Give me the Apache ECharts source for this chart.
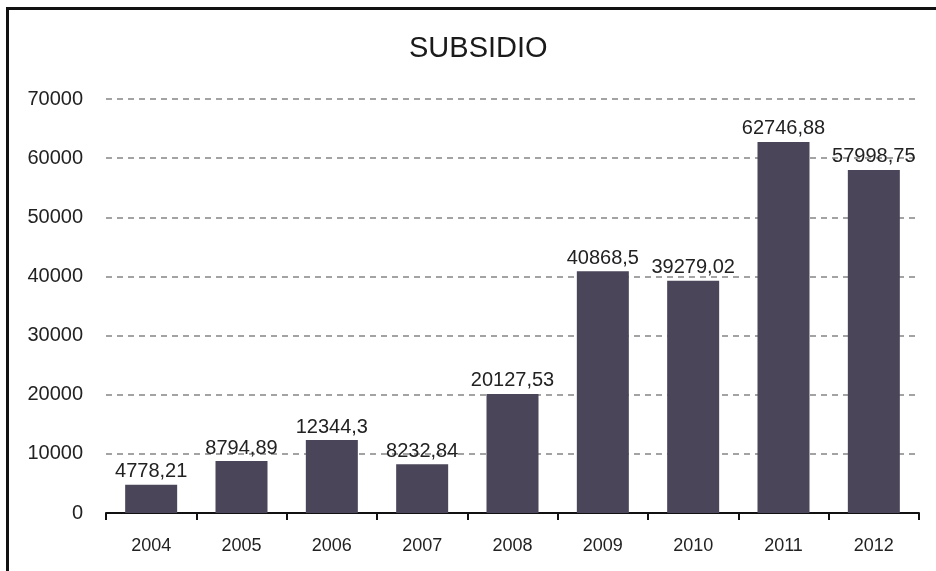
<!DOCTYPE html>
<html>
<head>
<meta charset="utf-8">
<script src="https://cdn.jsdelivr.net/npm/echarts@6/dist/echarts.min.js"></script>
<style>
  html, body { margin: 0; padding: 0; background: #fff; }
  #frame { position: absolute; left: 6px; top: 7px; right: 0; bottom: 0;
           border-top: 3px solid #111; border-left: 3px solid #111; }
  #myChart { position: absolute; left: 0; top: 0; width: 936px; height: 571px; }
</style>
</head>
<body>
<div id="frame"></div>
<div id="myChart"></div>
<script>
// datos
var years = ['2004', '2005', '2006', '2007', '2008', '2009', '2010', '2011', '2012'];
var subsidio = [4778.21, 8794.89, 12344.3, 8232.84, 20127.53, 40868.5, 39279.02, 62746.88, 57998.75];
var yTicks = [0, 10000, 20000, 30000, 40000, 50000, 60000, 70000];

var myChart = echarts.init(document.getElementById('myChart'));

myChart.setOption({
  animation: false,
  textStyle: { fontFamily: 'Liberation Sans, Arial, sans-serif' },
  title: {
    text: 'SUBSIDIO',
    left: 404,
    top: 29,
    textStyle: { fontSize: 29, fontWeight: 'normal', color: '#1a1a1a' }
  },
  grid: {
    left: 106,
    right: 17,
    top: 99,
    bottom: 58
  },
  xAxis: {
    type: 'category',
    data: years,
    axisLine: { lineStyle: { color: '#111', width: 2 } },
    axisTick: { show: true, length: 7, alignWithLabel: false, lineStyle: { color: '#111', width: 2 } },
    axisLabel: { fontSize: 18, color: '#222', margin: 24 }
  },
  yAxis: {
    type: 'value',
    min: yTicks[0],
    max: yTicks[yTicks.length - 1],
    interval: 10000,
    axisLine: { show: false },
    axisTick: { show: false },
    axisLabel: {
      fontSize: 20,
      color: '#222',
      margin: 23,
      formatter: function (v) { return String(v); }
    },
    splitLine: {
      show: true,
      lineStyle: { color: '#a3a3a3', width: 2, type: [6, 5] }
    }
  },
  series: [
    {
      name: 'SUBSIDIO',
      type: 'bar',
      data: subsidio,
      barWidth: 52,
      itemStyle: { color: '#4a4558' },
      label: {
        show: true,
        position: 'top',
        distance: 3,
        fontSize: 20,
        color: '#222',
        formatter: function (p) {
          return String(p.value).replace('.', ',');
        }
      }
    }
  ]
});
</script>
</body>
</html>
